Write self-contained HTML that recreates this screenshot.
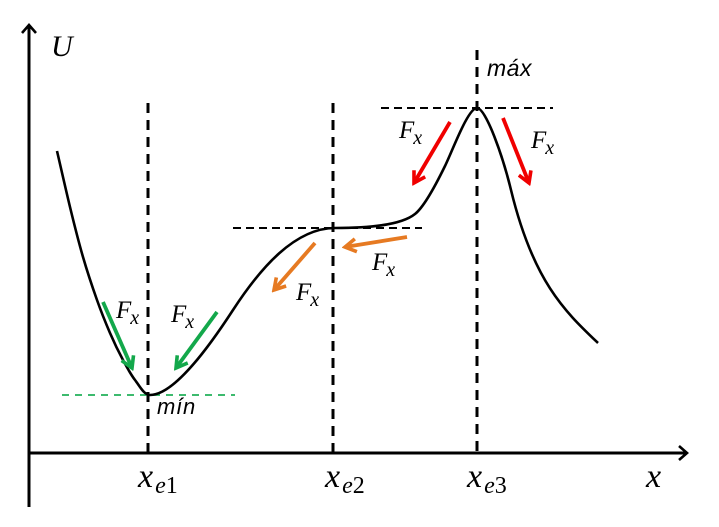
<!DOCTYPE html>
<html>
<head>
<meta charset="utf-8">
<style>
  html,body{margin:0;padding:0;background:#fff;}
  svg{display:block;}
  .serif{font-family:"Liberation Serif",serif;font-style:italic;}
  .sans{font-family:"Liberation Sans",sans-serif;font-style:italic;}
</style>
</head>
<body>
<svg width="719" height="527" viewBox="0 0 719 527" xmlns="http://www.w3.org/2000/svg">
  <defs>
    <marker id="mg" markerUnits="userSpaceOnUse" viewBox="0 0 16 16" refX="13" refY="8" markerWidth="16" markerHeight="16" orient="auto">
      <path d="M2,1.5 L13,8 L2,14.5" fill="none" stroke="#13a84b" stroke-width="3.6"/>
    </marker>
    <marker id="mo" markerUnits="userSpaceOnUse" viewBox="0 0 16 16" refX="13" refY="8" markerWidth="16" markerHeight="16" orient="auto">
      <path d="M2,1.5 L13,8 L2,14.5" fill="none" stroke="#e67a22" stroke-width="3.6"/>
    </marker>
    <marker id="mr" markerUnits="userSpaceOnUse" viewBox="0 0 16 16" refX="13" refY="8" markerWidth="16" markerHeight="16" orient="auto">
      <path d="M2,1.5 L13,8 L2,14.5" fill="none" stroke="#f00000" stroke-width="3.6"/>
    </marker>
  </defs>

  <!-- axes -->
  <line x1="29" y1="27" x2="29" y2="507" stroke="#000" stroke-width="3"/>
  <polyline points="22,33 29,25 36,33" fill="none" stroke="#000" stroke-width="2.6"/>
  <line x1="29" y1="453" x2="686" y2="453" stroke="#000" stroke-width="3"/>
  <polyline points="679,446 687,453 679,460" fill="none" stroke="#000" stroke-width="2.6"/>

  <!-- vertical dashed lines -->
  <line x1="148" y1="103" x2="148" y2="453" stroke="#000" stroke-width="3" stroke-dasharray="10 7"/>
  <line x1="333" y1="103" x2="333" y2="453" stroke="#000" stroke-width="3" stroke-dasharray="10 7"/>
  <line x1="477" y1="50" x2="477" y2="453" stroke="#000" stroke-width="3" stroke-dasharray="10 7"/>

  <!-- horizontal dashed -->
  <line x1="233" y1="228" x2="422" y2="228" stroke="#000" stroke-width="2" stroke-dasharray="8 5"/>
  <line x1="381" y1="108" x2="553" y2="108" stroke="#000" stroke-width="2" stroke-dasharray="8 5"/>
  <line x1="62" y1="395" x2="235" y2="395" stroke="#22b05a" stroke-width="1.8" stroke-dasharray="7 6"/>

  <!-- curve -->
  <path d="M57,151
    C59.2,160.3 65.7,189.3 70,207
    C74.3,224.7 78.5,241.5 83,257
    C87.5,272.5 92.5,287.3 97,300
    C101.5,312.7 105.7,323 110,333
    C114.3,343 118.8,352.2 123,360
    C127.2,367.8 130.5,374.2 135,380
    C139.5,385.8 144,395 150,395
    C175,395 211.2,343.5 233,310
    C260.3,268 295,228 335,228
    C365,228 400,226 415,214
    C424.4,206.6 437.1,182.2 445,166
    C452.9,149.8 468,108 477,108
    C486,108 503,157 511,190
    C533.4,282.3 565.6,312 598,343"
    fill="none" stroke="#000" stroke-width="2.6"/>

  <!-- arrows -->
  <line x1="103" y1="302" x2="132" y2="368" stroke="#13a84b" stroke-width="3.8" marker-end="url(#mg)"/>
  <line x1="217" y1="312" x2="176" y2="368" stroke="#13a84b" stroke-width="3.8" marker-end="url(#mg)"/>
  <line x1="315" y1="243" x2="274" y2="290" stroke="#e67a22" stroke-width="3.8" marker-end="url(#mo)"/>
  <line x1="407" y1="237" x2="345" y2="247" stroke="#e67a22" stroke-width="3.8" marker-end="url(#mo)"/>
  <line x1="450" y1="122" x2="414" y2="183" stroke="#f00000" stroke-width="3.8" marker-end="url(#mr)"/>
  <line x1="503" y1="118" x2="529" y2="183" stroke="#f00000" stroke-width="3.8" marker-end="url(#mr)"/>

  <!-- labels -->
  <text x="51" y="56" class="serif" font-size="30">U</text>

  <text x="116" y="318" class="serif" font-size="25">F<tspan dx="-1" dy="6" font-size="20">x</tspan></text>
  <text x="171" y="322" class="serif" font-size="25">F<tspan dx="-1" dy="6" font-size="20">x</tspan></text>
  <text x="296" y="300" class="serif" font-size="25">F<tspan dx="-1" dy="6" font-size="20">x</tspan></text>
  <text x="372" y="270" class="serif" font-size="25">F<tspan dx="-1" dy="6" font-size="20">x</tspan></text>
  <text x="399" y="138" class="serif" font-size="25">F<tspan dx="-1" dy="6" font-size="20">x</tspan></text>
  <text x="531" y="148" class="serif" font-size="25">F<tspan dx="-1" dy="6" font-size="20">x</tspan></text>

  <text x="487" y="76" class="sans" font-size="23" letter-spacing="0.5">máx</text>
  <text x="157" y="414" class="sans" font-size="22" letter-spacing="0.8">mín</text>

  <text x="138" y="487" class="serif" font-size="34">x<tspan dx="2" dy="6" font-size="24">e</tspan><tspan font-size="24" font-style="normal">1</tspan></text>
  <text x="325" y="487" class="serif" font-size="34">x<tspan dx="2" dy="6" font-size="24">e</tspan><tspan font-size="24" font-style="normal">2</tspan></text>
  <text x="467" y="487" class="serif" font-size="34">x<tspan dx="2" dy="6" font-size="24">e</tspan><tspan font-size="24" font-style="normal">3</tspan></text>
  <text x="646" y="487" class="serif" font-size="34">x</text>
</svg>
</body>
</html>
